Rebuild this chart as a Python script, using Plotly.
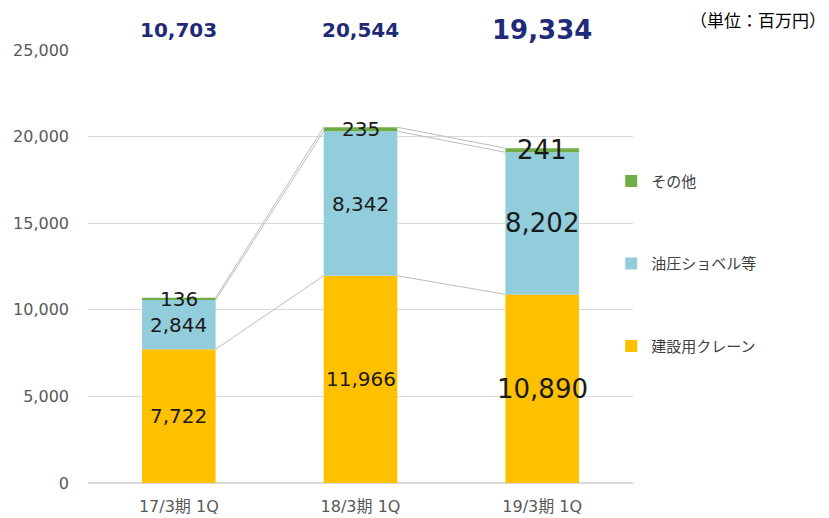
import numpy as np
import plotly.graph_objects as go

categories = ["17/3期 1Q", "18/3期 1Q", "19/3期 1Q"]
crane = [7722, 11966, 10890]
excavator = [2844, 8342, 8202]
other = [136, 235, 241]
totals = [10703, 20544, 19334]
series_names = ["建設用クレーン", "油圧ショベル等", "その他"]
unit_label = "（単位：百万円）"

colors = ["#FFC000", "#92CDDC", "#70AD47"]
legend_ranks = [3, 2, 1]
label_sizes = [20, 20, 26]
total_sizes = [20, 20, 26]
bar_w = 0.405
num_font = "DejaVu Sans, Noto Sans CJK JP"

x = np.arange(len(categories))
series = [np.array(crane), np.array(excavator), np.array(other)]

fig = go.Figure()
base = np.zeros(len(categories))
tops = []
for name, vals, col, rk in zip(series_names, series, colors, legend_ranks):
    fig.add_trace(go.Bar(
        x=x, y=vals, base=base, name=name, width=bar_w,
        marker=dict(color=col, line=dict(width=0)),
        legendgroup=name, legendrank=rk, hoverinfo="skip",
    ))
    tops.append(base + vals)
    base = base + vals

# series lines connecting segment tops
for t in tops:
    lx, ly = [], []
    for i in range(len(categories) - 1):
        lx += [x[i] + bar_w / 2, x[i + 1] - bar_w / 2, None]
        ly += [t[i], t[i + 1], None]
    fig.add_trace(go.Scatter(x=lx, y=ly, mode="lines", showlegend=False,
                             line=dict(color="#BDBDBD", width=1), hoverinfo="skip"))

annotations = []
base = np.zeros(len(categories))
for vals in series:
    for i in range(len(categories)):
        annotations.append(dict(
            x=x[i], y=base[i] + vals[i] / 2, xref="x", yref="y",
            text=f"{vals[i]:,}", showarrow=False,
            font=dict(family=num_font, size=label_sizes[i], color="#1a1a1a"),
        ))
    base = base + vals

for i, tot in enumerate(totals):
    annotations.append(dict(
        x=x[i], y=1.046, xref="x", yref="paper", text=f"<b>{tot:,}</b>",
        showarrow=False, yanchor="middle",
        font=dict(family=num_font, size=total_sizes[i], color="#1F2A78"),
    ))

annotations.append(dict(
    x=1.0, xref="paper", xanchor="right", xshift=195,
    y=1.07, yref="paper", yanchor="middle", text=unit_label, showarrow=False,
    font=dict(family="Noto Sans CJK JP", size=17, color="#000000"),
))

fig.update_layout(
    width=829, height=518,
    margin=dict(l=88, r=196, t=50, b=35),
    plot_bgcolor="white", paper_bgcolor="white",
    barmode="overlay",
    showlegend=True,
    legend=dict(x=0.96, xanchor="left", y=0.735, yanchor="top",
                traceorder="grouped", tracegroupgap=60,
                font=dict(family="Noto Sans CJK JP", size=15, color="#404040"),
                bgcolor="rgba(0,0,0,0)"),
    annotations=annotations,
    xaxis=dict(range=[-0.5, 2.5], tickvals=list(x), ticktext=categories,
               showgrid=False, showline=False, zeroline=False, ticks="",
               automargin=False, ticklabelstandoff=12,
               tickfont=dict(family=num_font, size=16, color="#595959")),
    yaxis=dict(range=[0, 25000], dtick=5000, tickformat=",", showgrid=True,
               gridcolor="#D9D9D9", gridwidth=1, zeroline=True, zerolinecolor="#D9D9D9",
               showline=False, ticks="", ticklabelstandoff=18, automargin=False,
               tickfont=dict(family=num_font, size=16, color="#595959")),
)

fig.write_html("out.html", config={"displayModeBar": False},
               post_script="document.body.style.margin='0';document.body.style.padding='0';")
